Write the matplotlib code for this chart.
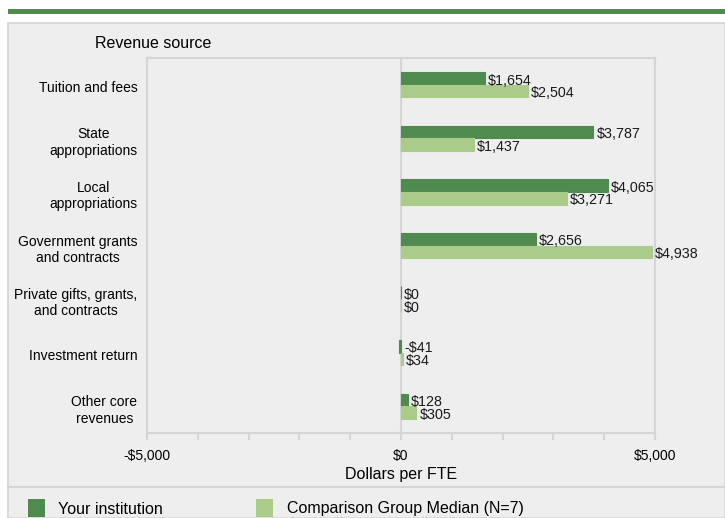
import matplotlib.pyplot as plt
from matplotlib.patches import Rectangle
from matplotlib.lines import Line2D
from matplotlib.ticker import MultipleLocator, FuncFormatter
import numpy as np

plt.rcParams['font.family'] = ['Liberation Sans', 'DejaVu Sans']

categories = ['Tuition and fees', 'State\nappropriations', 'Local\nappropriations',
              'Government grants\nand contracts', 'Private gifts, grants,\nand contracts',
              'Investment return', 'Other core\nrevenues']
your_inst = [1654, 3787, 4065, 2656, 0, -41, 128]
comparison = [2504, 1437, 3271, 4938, 0, 34, 305]
series_names = ['Your institution', 'Comparison Group Median (N=7)']

dark = '#4f8a4f'
light = '#aacb89'
grid_c = '#d5d5d5'
panel_c = '#eeeeee'

W, H = 725, 518
fig = plt.figure(figsize=(W / 100, H / 100), dpi=100)


def px(x, y):
    # pixel coords (from top-left) -> figure fraction
    return x / W, 1 - y / H


# background panel + top green band
fig.patches.append(Rectangle(px(8, 518), (W - 8) / W, (518 - 23) / H, transform=fig.transFigure,
                             facecolor=panel_c, edgecolor=grid_c, lw=1.2, zorder=-3))
fig.patches.append(Rectangle(px(8, 14), (W - 8) / W, 5 / H, transform=fig.transFigure,
                             facecolor=dark, edgecolor='none', zorder=-2))
fig.lines.append(Line2D([8 / W, 1], [1 - 487 / H] * 2, transform=fig.transFigure,
                        color=grid_c, lw=1.5, zorder=-2))

l, b = px(147, 433)
r, t = px(655, 58)
ax = fig.add_axes([l, b, r - l, t - b])
ax.set_facecolor('none')

y = np.arange(len(categories))
h = 0.235
# thin edge so that $0 bars still show as a sliver, like the original
ax.barh(y - h / 2, your_inst, height=h, color=dark, edgecolor=dark, lw=0.8, zorder=3)
ax.barh(y + h / 2, comparison, height=h, color=light, edgecolor=light, lw=0.8, zorder=3)


def money(v):
    return f'-${abs(v):,.0f}' if v < 0 else f'${v:,.0f}'


off = 60
for i in range(len(categories)):
    ax.text(max(your_inst[i], 0) + off, y[i] - h / 2 + 0.04, money(your_inst[i]),
            va='center', ha='left', fontsize=10.3, color='#1a1a1a', zorder=4)
    ax.text(max(comparison[i], 0) + off, y[i] + h / 2 + 0.04, money(comparison[i]),
            va='center', ha='left', fontsize=10.3, color='#1a1a1a', zorder=4)

ax.set_xlim(-5000, 5000)
ax.set_ylim(len(categories) - 0.5, -0.5)
ax.set_yticks(y + 0.03)
ax.set_yticklabels(categories, fontsize=10, multialignment='center')
ax.tick_params(axis='y', length=0, pad=7)

ax.xaxis.set_major_locator(MultipleLocator(5000))
ax.xaxis.set_minor_locator(MultipleLocator(1000))
ax.xaxis.set_major_formatter(FuncFormatter(lambda v, p: money(v)))
ax.tick_params(axis='x', which='both', length=5, color=grid_c, width=1.5, labelsize=10, pad=6.5)
ax.grid(axis='x', which='major', color=grid_c, lw=1.5, zorder=1)
for s in ax.spines.values():
    s.set_color(grid_c)
    s.set_linewidth(1.5)

ax.set_xlabel('Dollars per FTE', fontsize=11.5, labelpad=3)

fig.text(*px(95, 43), 'Revenue source', fontsize=11.5, va='center', ha='left')

# legend
for x0, c, name, tx in [(28, dark, series_names[0], 58), (256, light, series_names[1], 287)]:
    fig.patches.append(Rectangle(px(x0, 517), 17 / W, 18 / H, transform=fig.transFigure,
                                 facecolor=c, edgecolor='none', zorder=2))
    fig.text(*px(tx, 509), name, fontsize=11.5, va='center', ha='left')

fig.savefig('out.png', dpi=100)
